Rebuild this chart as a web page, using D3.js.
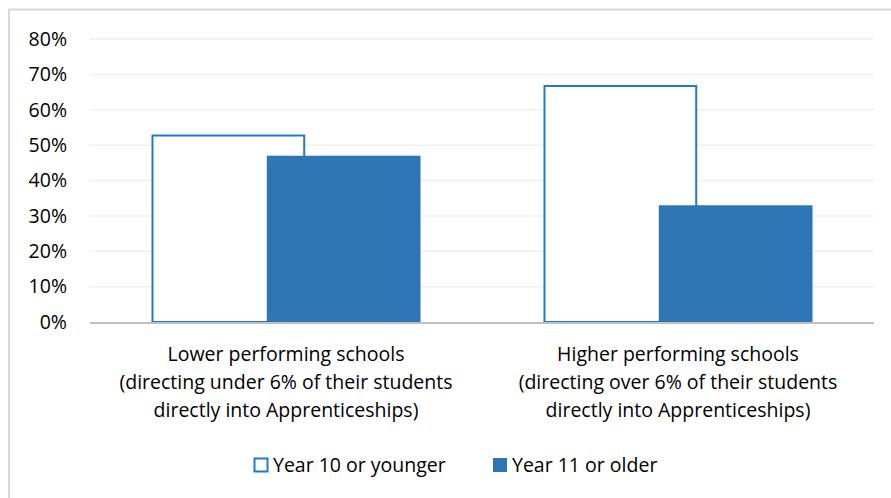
<!DOCTYPE html>
<html><head><meta charset="utf-8">
<script src="https://cdn.jsdelivr.net/npm/d3@7"></script>
<style>body{margin:0;background:#fff}svg{display:block}text{font-family:"Open Sans",sans-serif;fill:#000}</style>
</head><body><svg id="c" width="891" height="498"></svg>
<script>
const categories = [
  ["Lower performing schools","(directing under 6% of their students","directly into Apprenticeships)"],
  ["Higher performing schools","(directing over 6% of their students","directly into Apprenticeships)"]
];
const seriesNames = ["Year 10 or younger","Year 11 or older"];
const year10 = [0.53, 0.67];
const year11 = [0.47, 0.33];
const yTicks = [0,0.1,0.2,0.3,0.4,0.5,0.6,0.7,0.8];

const FONT = "'Open Sans',sans-serif", FS = 19.5;
const svg = d3.select("#c");
const blue = "#2e75b6", outline = "#1f7bc8";
const L = 90, R = 874, T = 39, B = 322;
// chart border
svg.append("path").attr("d","M9,498 V9.5 H891").attr("fill","none").attr("stroke","#d9d9d9").attr("stroke-width",2);

const x = d3.scaleBand().domain(d3.range(categories.length)).range([L,R]).paddingInner(0).paddingOuter(0);
const y = d3.scaleLinear().domain([0,0.8]).range([B,T]);

// gridlines
svg.append("g").selectAll("line").data(yTicks.slice(1)).join("line")
  .attr("x1",L).attr("x2",R).attr("y1",d=>y(d)).attr("y2",d=>y(d))
  .attr("stroke","#efefef").attr("stroke-width",1.5);

// y axis labels
const yAxis = d3.axisLeft(y).tickValues(yTicks).tickFormat(d3.format(".0%")).tickSize(0).tickPadding(0);
const ga = svg.append("g").attr("transform","translate(67,0)").call(yAxis);
ga.select(".domain").remove();
ga.selectAll("text").attr("font-size",FS).attr("font-family",FONT).attr("fill","#000");

// bars: gap width 80%, overlap 25%
const bw = x.bandwidth()/(2 - 0.25 + 0.8);
const off0 = x.bandwidth()/2 - (2*bw - 0.25*bw)/2;
const off1 = off0 + bw*0.75;

svg.append("g").selectAll("rect").data(year10).join("rect")
  .attr("x",(d,i)=>x(i)+off0+1).attr("width",bw-2)
  .attr("y",d=>y(d)+1).attr("height",d=>B-y(d)-1)
  .attr("fill","#fff").attr("stroke",outline).attr("stroke-width",2);

svg.append("g").selectAll("rect").data(year11).join("rect")
  .attr("x",(d,i)=>x(i)+off1).attr("width",bw)
  .attr("y",d=>y(d)).attr("height",d=>B-y(d))
  .attr("fill",blue);

// x axis line
svg.append("line").attr("x1",L).attr("x2",R).attr("y1",B+1).attr("y2",B+1).attr("stroke","#bfbfbf").attr("stroke-width",2);

// category labels
categories.forEach((lines,i)=>{
  const t = svg.append("text").attr("text-anchor","middle").attr("font-size",FS);
  lines.forEach((ln,j)=>t.append("tspan").attr("x",x(i)+x.bandwidth()/2).attr("y",361+28*j).text(ln));
});

// legend
const lg = svg.append("g");
lg.append("rect").attr("x",254.5).attr("y",458.5).attr("width",13).attr("height",13).attr("fill","#fff").attr("stroke",outline).attr("stroke-width",2);
lg.append("text").attr("x",273).attr("y",472).attr("font-size",FS).text(seriesNames[0]);
lg.append("rect").attr("x",493).attr("y",458).attr("width",14).attr("height",14).attr("fill",blue);
lg.append("text").attr("x",512).attr("y",472).attr("font-size",FS).text(seriesNames[1]);
</script></body></html>
